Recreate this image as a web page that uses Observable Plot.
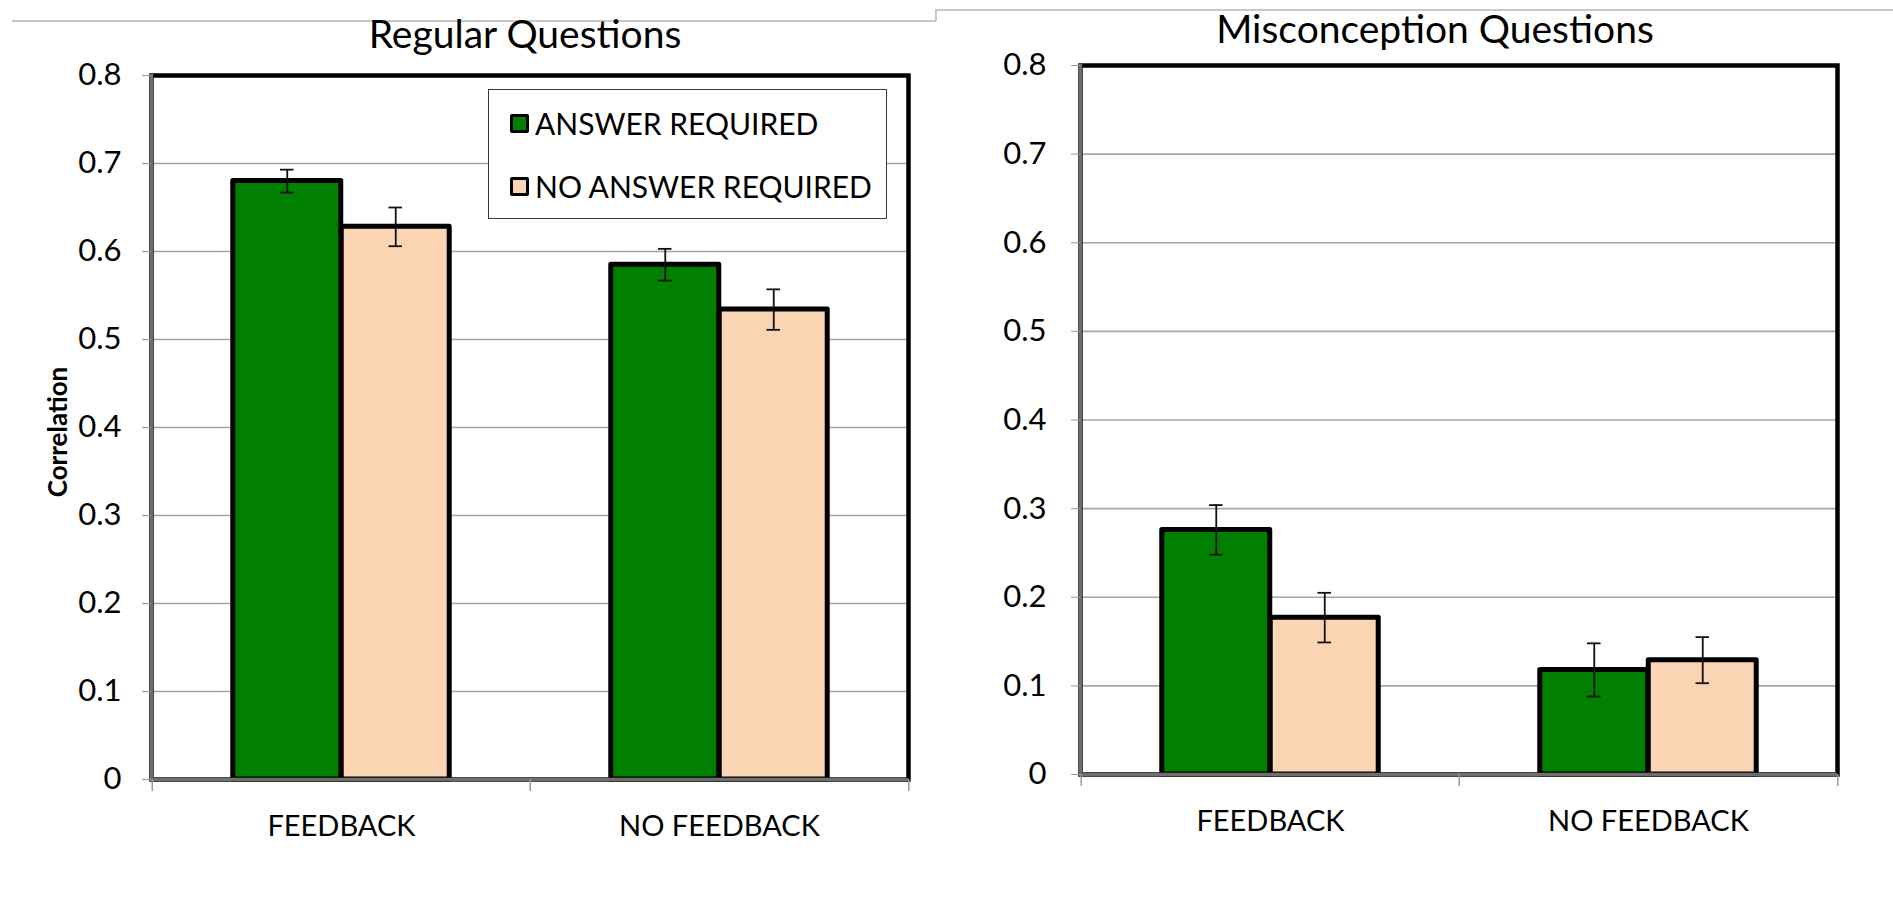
<!DOCTYPE html>
<html>
<head>
<meta charset="utf-8">
<script src="https://cdn.jsdelivr.net/npm/d3@7"></script>
<script src="https://cdn.jsdelivr.net/npm/@observablehq/plot@0.6"></script>
<style>
  html, body { margin: 0; padding: 0; background: #fff; }
  #wrap { position: relative; width: 1893px; height: 922px; overflow: hidden; background: #fff; font-family: Lato, "Open Sans", sans-serif; color: #000; }
  .abs { position: absolute; }
  .title { position: absolute; font-size: 39px; white-space: nowrap; transform: translate(-50%, -50%); line-height: 1; }
  .legend { position: absolute; border: 1.5px solid #3a3a3a; background: #fff; box-sizing: border-box; }
  .item { position: absolute; display: flex; align-items: center; font-size: 30px; white-space: nowrap; line-height: 1; }
  .sw { width: 13px; height: 13px; border: 3.5px solid #000; border-radius: 2px; margin-right: 6px; }
  .ylab { position: absolute; font-weight: bold; font-size: 26px; transform: translate(-50%, -50%) rotate(-90deg); white-space: nowrap; }
  .deco { position: absolute; background: #c8c8c8; }
</style>
</head>
<body>
<div id="wrap"></div>
<script>
// ---- data ----
const categories = ["FEEDBACK", "NO FEEDBACK"];
const seriesNames = ["ANSWER REQUIRED", "NO ANSWER REQUIRED"];
const seriesColors = ["#007f00", "#fbd4b4"];

const regularAnswer = [0.680, 0.585];
const regularAnswerErr = [0.013, 0.018];
const regularNoAnswer = [0.628, 0.534];
const regularNoAnswerErr = [0.022, 0.023];

const miscAnswer = [0.276, 0.118];
const miscAnswerErr = [0.028, 0.030];
const miscNoAnswer = [0.177, 0.129];
const miscNoAnswerErr = [0.028, 0.026];

const yTicks = [0, 0.1, 0.2, 0.3, 0.4, 0.5, 0.6, 0.7, 0.8];
const yTickLabels = ["0", "0.1", "0.2", "0.3", "0.4", "0.5", "0.6", "0.7", "0.8"];

function rows(a, ae, b, be) {
  const out = [];
  categories.forEach((c, i) => {
    out.push({cat: c, s: 0, v: a[i], e: ae[i]});
    out.push({cat: c, s: 1, v: b[i], e: be[i]});
  });
  return out;
}

function chart({data, width, height, mL, mR, mT, mB, tickPad}) {
  const fw = width - mL - mR;
  const fh = height - mT - mB;
  const bw = fw / categories.length;
  const barW = bw * 0.2866;
  const off = barW / 2;
  const s0 = data.filter(d => d.s === 0);
  const s1 = data.filter(d => d.s === 1);
  const errStyle = {stroke: "#111", strokeWidth: 1.8};
  const fmt = d => yTickLabels[yTicks.indexOf(d)] ?? "";
  return Plot.plot({
    width, height,
    marginLeft: mL, marginRight: mR, marginTop: mT, marginBottom: mB,
    style: {fontFamily: "Lato, 'Open Sans', sans-serif", fontSize: "29px", color: "#000", background: "transparent", overflow: "visible"},
    x: {type: "band", domain: categories, padding: 0},
    y: {domain: [0, 0.8]},
    marks: [
      Plot.ruleY(yTicks.filter(d => d > 0 && d < 0.8), {stroke: "#a6a6a6", strokeWidth: 1.6}),
      Plot.barY(s0, {x: "cat", y: "v", fill: seriesColors[0], stroke: "#000", strokeWidth: 5, strokeLinejoin: "round", insetLeft: bw / 2 - barW, insetRight: bw / 2}),
      Plot.barY(s1, {x: "cat", y: "v", fill: seriesColors[1], stroke: "#000", strokeWidth: 5, strokeLinejoin: "round", insetLeft: bw / 2, insetRight: bw / 2 - barW}),
      Plot.ruleX(s0, {x: "cat", y1: d => d.v - d.e, y2: d => d.v + d.e, dx: -off, ...errStyle}),
      Plot.ruleX(s1, {x: "cat", y1: d => d.v - d.e, y2: d => d.v + d.e, dx: off, ...errStyle}),
      Plot.tickY(s0, {x: "cat", y: d => d.v - d.e, dx: -off, insetLeft: bw / 2 - 7, insetRight: bw / 2 - 7, ...errStyle}),
      Plot.tickY(s0, {x: "cat", y: d => d.v + d.e, dx: -off, insetLeft: bw / 2 - 7, insetRight: bw / 2 - 7, ...errStyle}),
      Plot.tickY(s1, {x: "cat", y: d => d.v - d.e, dx: off, insetLeft: bw / 2 - 7, insetRight: bw / 2 - 7, ...errStyle}),
      Plot.tickY(s1, {x: "cat", y: d => d.v + d.e, dx: off, insetLeft: bw / 2 - 7, insetRight: bw / 2 - 7, ...errStyle}),
      Plot.frame({stroke: "#000", strokeWidth: 4.5}),
      Plot.frame({anchor: "left", stroke: "#6e6e6e", strokeWidth: 3.5}),
      Plot.ruleY([0], {stroke: "#6e6e6e", strokeWidth: 3.5}),
      Plot.ruleX(categories, {x: d => d, dx: -bw / 2, insetTop: fh, insetBottom: -12, stroke: "#999", strokeWidth: 1.5}),
      Plot.ruleX(categories.slice(-1), {x: d => d, dx: bw / 2, insetTop: fh, insetBottom: -12, stroke: "#999", strokeWidth: 1.5}),
      Plot.axisY({ticks: yTicks, tickFormat: fmt, tickSize: 9, tickPadding: tickPad, stroke: "#999", fill: "#000", fontSize: 31, label: null}),
      Plot.axisX({tickSize: 0, tickPadding: 36, label: null, fill: "#000"})
    ]
  });
}

const wrap = document.getElementById("wrap");

function deco(l, t, w, h) {
  const d = document.createElement("div");
  d.className = "deco";
  Object.assign(d.style, {left: l + "px", top: t + "px", width: w + "px", height: h + "px"});
  wrap.appendChild(d);
}
deco(12, 20, 924, 1.5);
deco(935, 9, 1.5, 12);
deco(936, 9, 957, 1.5);

const left = chart({data: rows(regularAnswer, regularAnswerErr, regularNoAnswer, regularNoAnswerErr), width: 946, height: 922, mL: 151, mR: 38, mT: 75, mB: 143, tickPad: 21});
left.classList.add("abs");
left.style.left = "0px"; left.style.top = "0px";
wrap.appendChild(left);

const right = chart({data: rows(miscAnswer, miscAnswerErr, miscNoAnswer, miscNoAnswerErr), width: 947, height: 922, mL: 134, mR: 56, mT: 65, mB: 148, tickPad: 25});
right.classList.add("abs");
right.style.left = "946px"; right.style.top = "0px";
wrap.appendChild(right);

function addTitle(text, x, y) {
  const t = document.createElement("div");
  t.className = "title";
  t.textContent = text;
  t.style.left = x + "px"; t.style.top = y + "px";
  wrap.appendChild(t);
}
addTitle("Regular Questions", 525, 33);
addTitle("Misconception Questions", 1435, 28);

const yl = document.createElement("div");
yl.className = "ylab";
yl.textContent = "Correlation";
yl.style.left = "57px"; yl.style.top = "432px";
wrap.appendChild(yl);

const lg = document.createElement("div");
lg.className = "legend";
Object.assign(lg.style, {left: "488px", top: "89px", width: "399px", height: "130px"});
seriesNames.forEach((name, i) => {
  const it = document.createElement("div");
  it.className = "item";
  it.style.left = "21px";
  it.style.top = (i === 0 ? 18 : 81) + "px";
  const sw = document.createElement("div");
  sw.className = "sw";
  sw.style.background = seriesColors[i];
  const tx = document.createElement("span");
  tx.textContent = name;
  it.appendChild(sw); it.appendChild(tx);
  lg.appendChild(it);
});
wrap.appendChild(lg);
</script>
</body>
</html>
